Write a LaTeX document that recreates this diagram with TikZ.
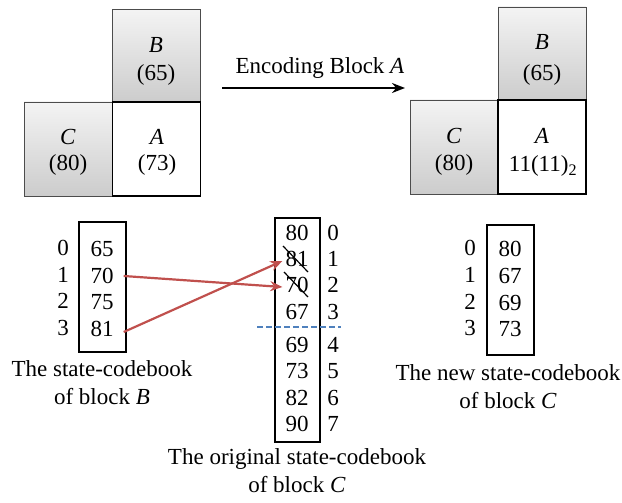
\documentclass[tikz,border=0pt]{standalone}
\usepackage{fontspec}
\setmainfont{Liberation Serif}
\usetikzlibrary{arrows.meta,calc}
\definecolor{arrred}{RGB}{192,80,77}
\definecolor{dashblue}{RGB}{79,129,189}
\begin{document}
\begin{tikzpicture}[x=1pt,y=-1pt,
  txt/.style={font=\fontsize{23}{27}\selectfont, inner sep=0pt},
  captext/.style={font=\fontsize{23}{28}\selectfont, inner sep=0pt, align=center},
  blk/.style={minimum width=88pt, minimum height=93pt, inner sep=0pt},
  graybox/.style={blk, draw=gray!60!black, line width=0.8pt, top color=gray!9, bottom color=gray!40},
  whitebox/.style={blk, draw=black, line width=1.7pt, fill=white},
  cbbox/.style={draw=black, line width=1.7pt, inner sep=0pt},
  redarr/.style={draw=arrred, line width=2.2pt, -{Stealth[length=12pt,width=10pt]}},
  strike/.style={draw=black, line width=1.2pt}]
\useasboundingbox (0,0) rectangle (622,503);

% left blocks
\node[graybox] (lB) at (156,56) {};
\node[graybox, minimum height=94pt] (lC) at (68,149) {};
\node[whitebox, minimum height=94pt] (lA) at (156.5,149) {};
\node[txt] (lBt) at (156,45) {\textit{B}};
\node[txt] (lBv) at (156,75) {(65)};
\node[txt] (lCt) at (68,137) {\textit{C}};
\node[txt] (lCv) at (68,165) {(80)};
\node[txt] (lAt) at (157,137) {\textit{A}};
\node[txt] (lAv) at (157,165) {(73)};

% right blocks
\node[graybox] (rB) at (542,53.5) {};
\node[graybox, minimum height=94pt] (rC) at (454,147) {};
\node[whitebox, minimum height=94pt] (rA) at (542,147) {};
\node[txt] (rBt) at (542,42) {\textit{B}};
\node[txt] (rBv) at (542,75) {(65)};
\node[txt] (rCt) at (454,136) {\textit{C}};
\node[txt] (rCv) at (454,165) {(80)};
\node[txt] (rAt) at (542,136) {\textit{A}};
\node[txt] (rAv) at (543,166) {11(11)\textsubscript{2}};

% encoding arrow
\coordinate (encS) at (222,88);
\coordinate (encE) at (405,88);
\draw[line width=2pt, -{Stealth[length=13pt,width=10pt]}] (encS) -- (encE);
\node[txt] (enc) at (320,68) {Encoding Block \textit{A}};

% left codebook (block B)
\node[cbbox, minimum width=47pt, minimum height=130pt] (cbB) at (102.5,287) {};
\node[txt] (b0) at (102,249) {65};
\node[txt] (b1) at (102,276) {70};
\node[txt] (b2) at (102,302) {75};
\node[txt] (b3) at (102,329) {81};
\node[txt] (ib0) at (63,248) {0};
\node[txt] (ib1) at (63,275) {1};
\node[txt] (ib2) at (63,301) {2};
\node[txt] (ib3) at (63,328) {3};
\node[captext] (capB) at (102,383) {The state-codebook\\of block \textit{B}};

% middle codebook (original C)
\node[cbbox, minimum width=45pt, minimum height=224pt] (cbC) at (297.5,330) {};
\node[txt] (m0) at (297,233) {80};
\node[txt] (m1) at (297,259) {81};
\node[txt] (m2) at (297,285) {70};
\node[txt] (m3) at (297,312) {67};
\node[txt] (m4) at (297,345) {69};
\node[txt] (m5) at (297,371) {73};
\node[txt] (m6) at (297,398) {82};
\node[txt] (m7) at (297,424) {90};
\node[txt] (im0) at (333,233) {0};
\node[txt] (im1) at (333,259) {1};
\node[txt] (im2) at (333,285) {2};
\node[txt] (im3) at (333,312) {3};
\node[txt] (im4) at (333,345) {4};
\node[txt] (im5) at (333,371) {5};
\node[txt] (im6) at (333,398) {6};
\node[txt] (im7) at (333,424) {7};
\node[captext] (capC) at (297,471) {The original state-codebook\\of block \textit{C}};

% strike-outs
\draw[strike] (283,246) -- (308,272);
\draw[strike] (284,272) -- (308,297);

% dashed separator
\coordinate (dS) at (257,327);
\coordinate (dE) at (341,327);
\draw[dashblue, line width=1.8pt, dash pattern=on 6pt off 3pt] (dS) -- (dE);

% right codebook (new C)
\node[cbbox, minimum width=47pt, minimum height=130pt] (cbN) at (510.5,290) {};
\node[txt] (n0) at (510,249) {80};
\node[txt] (n1) at (510,276) {67};
\node[txt] (n2) at (510,303) {69};
\node[txt] (n3) at (510,329) {73};
\node[txt] (in0) at (470,248) {0};
\node[txt] (in1) at (470,275) {1};
\node[txt] (in2) at (470,302) {2};
\node[txt] (in3) at (470,328) {3};
\node[captext] (capN) at (508,387) {The new state-codebook\\of block \textit{C}};

% red arrows
\draw[redarr] ([xshift=10pt]b1.east) -- ([xshift=-3pt,yshift=-2pt]m2.west);
\draw[redarr] ([xshift=10pt,yshift=-3pt]b3.east) -- ([xshift=-3pt,yshift=-2pt]m1.west);
\end{tikzpicture}
\end{document}
